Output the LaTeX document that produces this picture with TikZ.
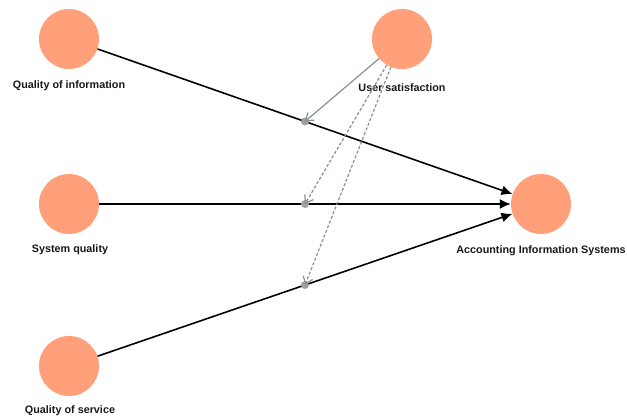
\documentclass[tikz,border=0pt]{standalone}
\usepackage{fontspec}
\setmainfont{Liberation Sans}
\usetikzlibrary{arrows.meta,calc}
\definecolor{salmonfill}{HTML}{FFA07A}
\definecolor{modline}{HTML}{849484}
\definecolor{dotgray}{HTML}{A0A0A0}
\tikzset{
  construct/.style={circle,fill=salmonfill,draw=none,minimum size=60pt,inner sep=0pt},
  lbl/.style={font=\bfseries\fontsize{10.8}{12}\selectfont,text=black!90},
  path/.style={draw=black,line width=1.6pt,-{Latex[length=11pt,width=10pt]}},
  modsolid/.style={draw=modline,line width=1.2pt,-{Straight Barb[length=7pt,width=10pt]}},
  moddash/.style={draw=modline,line width=1.2pt,dash pattern=on 3pt off 2pt,-{Straight Barb[length=7pt,width=10pt]}},
  moddot/.style={circle,fill=dotgray,minimum size=8pt,inner sep=0pt}
}
\begin{document}
\begin{tikzpicture}[x=1pt,y=-1pt]
\useasboundingbox (0,0) rectangle (627,417);
\node[construct] (qi) at (69,39) {};
\node[construct] (us) at (402,39) {};
\node[construct] (sq) at (69,204) {};
\node[construct] (qs) at (69,366) {};
\node[construct] (ais) at (541,204) {};
\node[lbl] (qil) at (69,85.5) {Quality of information};
\node[lbl] (usl) at (402,87.5) {User satisfaction};
\node[lbl] (sql) at (70,249.5) {System quality};
\node[lbl] (qsl) at (70,411) {Quality of service};
\node[lbl] (aisl) at (541,250.5) {Accounting Information Systems};
\draw[path] (qi) -- (ais);
\draw[path] (sq) -- (ais);
\draw[path] (qs) -- (ais);
\node[moddot] (m1) at ($(qi.center)!0.5!(ais.center)$) {};
\node[moddot] (m2) at ($(sq.center)!0.5!(ais.center)$) {};
\node[moddot] (m3) at ($(qs.center)!0.5!(ais.center)$) {};
\draw[modsolid] (us) -- (m1.center);
\draw[moddash] (us) -- (m2.center);
\draw[moddash] (us) -- (m3.center);
\end{tikzpicture}
\end{document}
